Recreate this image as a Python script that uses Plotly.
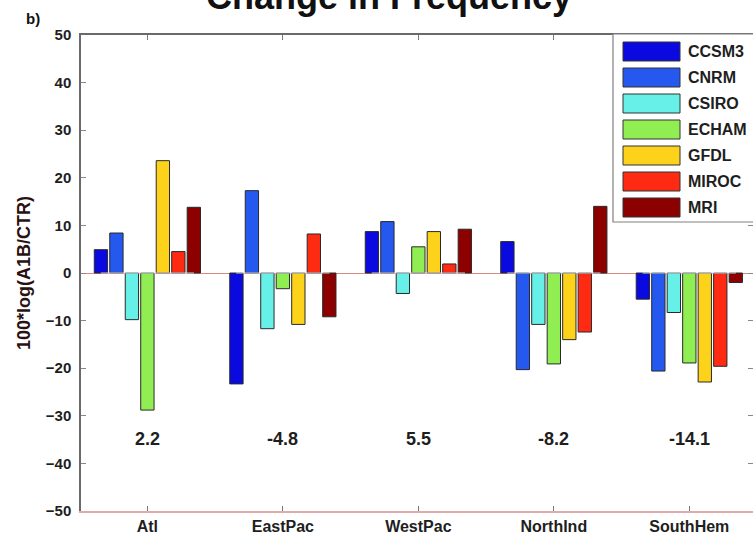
import plotly.graph_objects as go

regions = ["Atl", "EastPac", "WestPac", "NorthInd", "SouthHem"]
models = ["CCSM3", "CNRM", "CSIRO", "ECHAM", "GFDL", "MIROC", "MRI"]
colors = ["#0a0ae0", "#2458ee", "#66f0e8", "#90ee52", "#fdd21a", "#ff2a12", "#8c0000"]

ccsm3 = [4.9, -23.3, 8.7, 6.6, -5.5]
cnrm = [8.4, 17.3, 10.8, -20.3, -20.6]
csiro = [-9.8, -11.7, -4.3, -10.8, -8.3]
echam = [-28.8, -3.3, 5.5, -19.1, -18.9]
gfdl = [23.6, -10.8, 8.7, -14.0, -22.9]
miroc = [4.5, 8.2, 1.9, -12.4, -19.6]
mri = [13.8, -9.2, 9.2, 14.0, -2.0]
series = [ccsm3, cnrm, csiro, echam, gfdl, miroc, mri]

mean_labels = ["2.2", "-4.8", "5.5", "-8.2", "-14.1"]
mean_label_y = -34.8

y_ticks = list(range(-50, 51, 10))

W, H = 753, 537
L, R, T, B = 81, 0, 35, 26
PW, PH = W - L - R, H - T - B
FONT = "Liberation Sans, Arial, Helvetica, sans-serif"
TXT = "#1e1e1e"


def px(xp):
    return (xp - L) / PW


def py(yp):
    return (H - B - yp) / PH


fig = go.Figure()
for name, vals, col in zip(models, series, colors):
    fig.add_trace(go.Bar(
        x=regions, y=vals, name=name, showlegend=False,
        marker=dict(color=col, line=dict(color="#2a2a2a", width=1)),
    ))

# mean change labels under each group
for reg, lab in zip(regions, mean_labels):
    fig.add_annotation(x=reg, y=mean_label_y, text=lab, showarrow=False,
                       xref="x", yref="y",
                       font=dict(family=FONT, size=18, color=TXT, weight="bold"))

# title (partly cut off at top as in reference)
fig.add_annotation(x=px(389), y=py(19), xref="paper", yref="paper",
                   text="Change in Frequency", showarrow=False,
                   xanchor="center", yanchor="bottom",
                   font=dict(family=FONT, size=36, color="#111", weight="bold"))
# panel label
fig.add_annotation(x=px(33), y=py(19), xref="paper", yref="paper",
                   text="b)", showarrow=False, xanchor="center", yanchor="middle",
                   font=dict(family=FONT, size=15, color="#111", weight="bold"))

# legend box
shapes = [dict(type="rect", xref="paper", yref="paper",
               x0=px(613), x1=px(760), y0=py(222), y1=py(34),
               line=dict(color="#808080", width=1.2), fillcolor="white", layer="above")]
for i, (name, col) in enumerate(zip(models, colors)):
    top = 42 + 26 * i
    shapes.append(dict(type="rect", xref="paper", yref="paper",
                       x0=px(623), x1=px(680), y0=py(top + 19), y1=py(top),
                       line=dict(color="#333", width=1), fillcolor=col, layer="above"))
    fig.add_annotation(x=px(686), y=py(top + 9.5), xref="paper", yref="paper",
                       text=name, showarrow=False, xanchor="left", yanchor="middle",
                       font=dict(family=FONT, size=16, color=TXT, weight="bold"))

fig.update_layout(
    width=W, height=H,
    margin=dict(l=L, r=R, t=T, b=B, autoexpand=False),
    paper_bgcolor="white", plot_bgcolor="white",
    barmode="group", bargap=0.2, bargroupgap=0.14,
    shapes=shapes,
    xaxis=dict(
        type="category", range=[-0.49, 4.47],
        showline=True, linecolor="#e3a8a8", linewidth=1.5,
        ticks="inside", ticklen=5, tickcolor="#777",
        tickfont=dict(family=FONT, size=16, color=TXT, weight="bold"),
        showgrid=False, zeroline=False, automargin=False,
    ),
    xaxis2=dict(
        overlaying="x", side="top", matches="x", type="category",
        range=[-0.49, 4.47], tickvals=regions,
        showline=True, linecolor="#6a6a6a", linewidth=1.5,
        ticks="inside", ticklen=5, tickcolor="#777", showticklabels=False,
        showgrid=False, zeroline=False,
    ),
    yaxis=dict(
        range=[-50, 50], tickvals=y_ticks,
        showline=True, linecolor="#6a6a6a", linewidth=1.5, mirror="ticks",
        ticks="inside", ticklen=5, tickcolor="#888", ticklabelstandoff=5,
        tickfont=dict(family=FONT, size=15, color=TXT, weight="bold"),
        showgrid=False, zeroline=True, zerolinecolor="#d98a80", zerolinewidth=1,
        title=dict(text="100*log(A1B/CTR)", standoff=10,
                   font=dict(family=FONT, size=18, color="#2a1212", weight="bold")),
        automargin=False,
    ),
)
# invisible trace to anchor top axis
fig.add_trace(go.Bar(x=regions, y=[0] * len(regions), xaxis="x2", showlegend=False,
                     marker=dict(color="rgba(0,0,0,0)"), hoverinfo="skip"))

fig.write_html("out.html", config={"displayModeBar": False},
               post_script="document.body.style.margin='0';document.body.style.overflow='hidden';")
